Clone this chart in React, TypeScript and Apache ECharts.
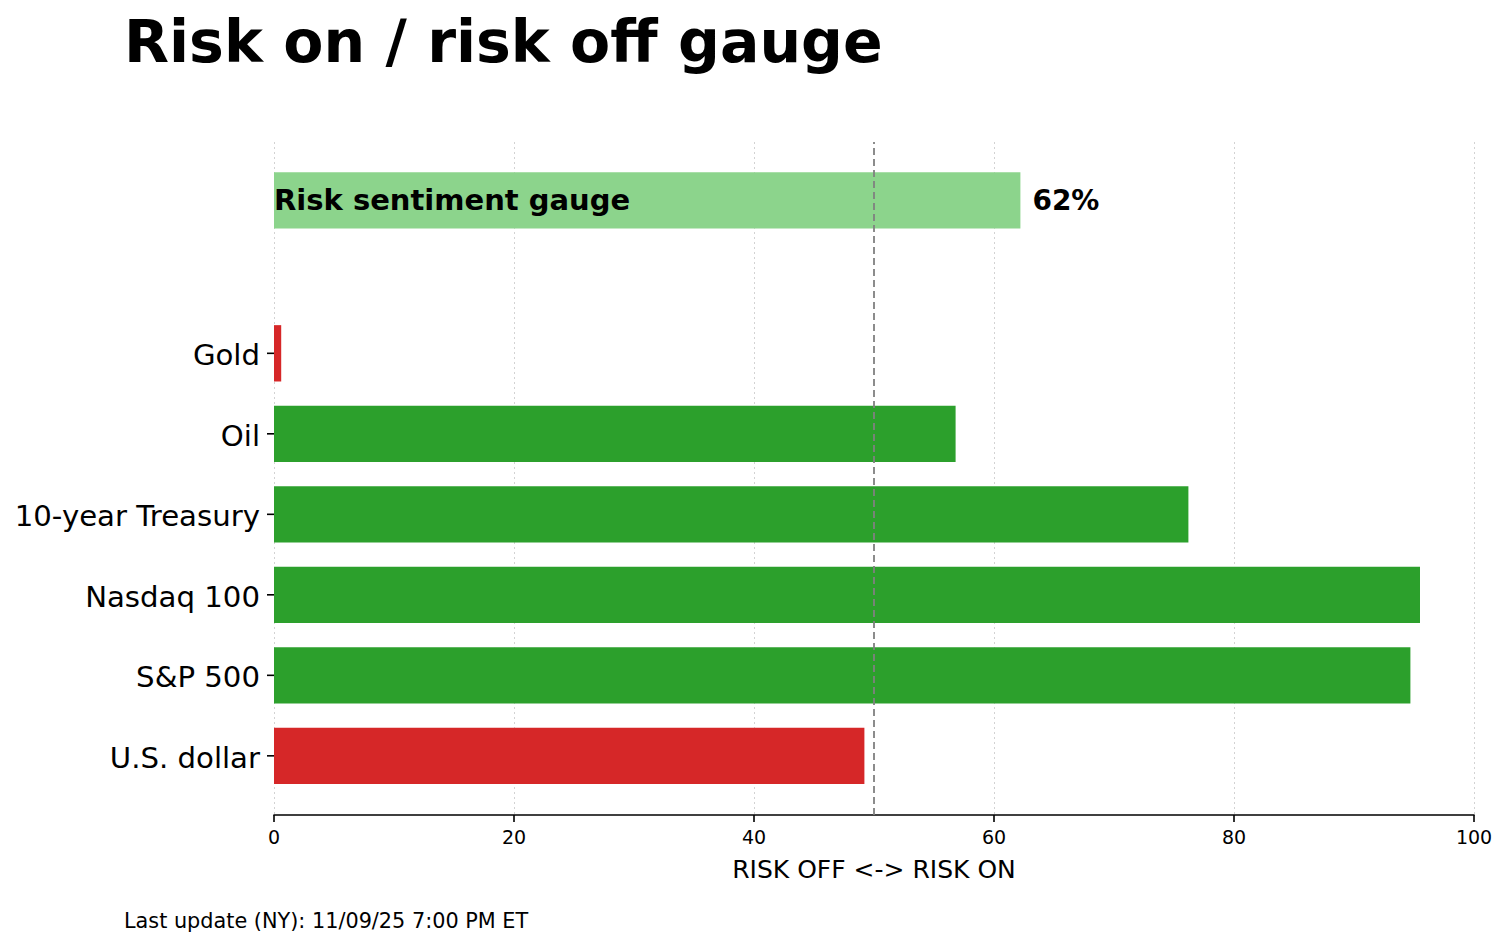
import React, { useEffect, useRef } from "react";
import * as echarts from "echarts";

const categories = ["U.S. dollar", "S&P 500", "Nasdaq 100", "10-year Treasury", "Oil", "Gold"];
const values = [49.2, 94.7, 95.5, 76.2, 56.8, 0.6];
const positions = [0, 1, 2, 3, 4, 5];
const gaugeLabel = "Risk sentiment gauge";
const gaugeValue = 62.2;
const gaugePosition = 6.9;
const xTicks = [0, 20, 40, 60, 80, 100];
const neutral = 50;
const titleText = "Risk on / risk off gauge";
const axisTitle = "RISK OFF <-> RISK ON";
const footerText = "Last update (NY): 11/09/25 7:00 PM ET";

const FONT = '"DejaVu Sans", "Liberation Sans", sans-serif';
const GREEN = "#2ca02c";
const RED = "#d62728";
const LIGHT_GREEN = "#8cd48c";
const HALF = 0.35;

export default function App() {
  const ref = useRef<HTMLDivElement>(null);
  useEffect(() => {
    if (!ref.current) return;
    const chart = echarts.init(ref.current, null, { renderer: "svg" });
    const option: any = {
      animation: false,
      backgroundColor: "#ffffff",
      textStyle: { fontFamily: FONT },
      grid: { left: 274, right: 35, top: 142, bottom: 131, containLabel: false },
      xAxis: {
        type: "value",
        min: xTicks[0],
        max: xTicks[xTicks.length - 1],
        interval: xTicks[1] - xTicks[0],
        name: axisTitle,
        nameLocation: "middle",
        nameGap: 42,
        nameTextStyle: { fontFamily: FONT, fontSize: 25, color: "#000" },
        axisLine: { show: true, onZero: false, lineStyle: { color: "#000", width: 1.6 } },
        axisTick: { show: true, length: 7, lineStyle: { color: "#000", width: 1.6 } },
        axisLabel: { fontFamily: FONT, fontSize: 19, color: "#000", margin: 12 },
        splitLine: { show: true, lineStyle: { color: "#d3d3d3", width: 1, type: [2, 3] } },
      },
      yAxis: {
        type: "value",
        min: -0.735,
        max: 7.625,
        show: false,
        splitLine: { show: false },
      },
      graphic: [
        {
          type: "text",
          left: 124,
          top: 12,
          style: { text: titleText, font: `bold 58.5px ${FONT}`, fill: "#000" },
        },
        {
          type: "text",
          left: 124,
          top: 910,
          style: { text: footerText, font: `20.8px ${FONT}`, fill: "#000" },
        },
      ],
      series: [
        {
          type: "custom",
          silent: true,
          encode: { x: 0, y: 1 },
          data: values.map((v, i) => [v, positions[i]]),
          renderItem: (params: any, api: any) => {
            const v = api.value(0);
            const y = api.value(1);
            const p0 = api.coord([0, y + HALF]);
            const p1 = api.coord([v, y - HALF]);
            const pc = api.coord([0, y]);
            return {
              type: "group",
              children: [
                {
                  type: "rect",
                  shape: { x: p0[0], y: p0[1], width: p1[0] - p0[0], height: p1[1] - p0[1] },
                  style: { fill: v < neutral ? RED : GREEN },
                },
                {
                  type: "line",
                  shape: { x1: pc[0] - 7, y1: pc[1], x2: pc[0], y2: pc[1] },
                  style: { stroke: "#000", lineWidth: 1.6 },
                },
                {
                  type: "text",
                  x: pc[0] - 14,
                  y: pc[1] + 2,
                  style: {
                    text: categories[params.dataIndex],
                    font: `29.2px ${FONT}`,
                    fill: "#000",
                    align: "right",
                    verticalAlign: "middle",
                  },
                },
              ],
            };
          },
          markLine: {
            silent: true,
            symbol: "none",
            label: { show: false },
            lineStyle: { color: "#808080", width: 1.8, type: [7, 4] },
            data: [{ xAxis: neutral }],
          },
        },
        {
          type: "custom",
          silent: true,
          encode: { x: 0, y: 1 },
          data: [[gaugeValue, gaugePosition]],
          z: 1,
          renderItem: (params: any, api: any) => {
            const v = api.value(0);
            const y = api.value(1);
            const p0 = api.coord([0, y + HALF]);
            const p1 = api.coord([v, y - HALF]);
            const pc = api.coord([0, y]);
            return {
              type: "group",
              children: [
                {
                  type: "rect",
                  shape: { x: p0[0], y: p0[1], width: p1[0] - p0[0], height: p1[1] - p0[1] },
                  style: { fill: LIGHT_GREEN },
                },
                {
                  type: "text",
                  x: pc[0],
                  y: pc[1],
                  style: {
                    text: gaugeLabel,
                    font: `bold 29px ${FONT}`,
                    fill: "#000",
                    align: "left",
                    verticalAlign: "middle",
                  },
                },
                {
                  type: "text",
                  x: p1[0] + 12,
                  y: pc[1],
                  style: {
                    text: `${Math.round(v)}%`,
                    font: `bold 28px ${FONT}`,
                    fill: "#000",
                    align: "left",
                    verticalAlign: "middle",
                  },
                },
              ],
            };
          },
        },
      ],
    };
    chart.setOption(option);
    return () => chart.dispose();
  }, []);
  return (
    <div
      ref={ref}
      style={{ position: "absolute", left: 0, top: 0, width: 1509, height: 946, background: "#fff" }}
    />
  );
}
